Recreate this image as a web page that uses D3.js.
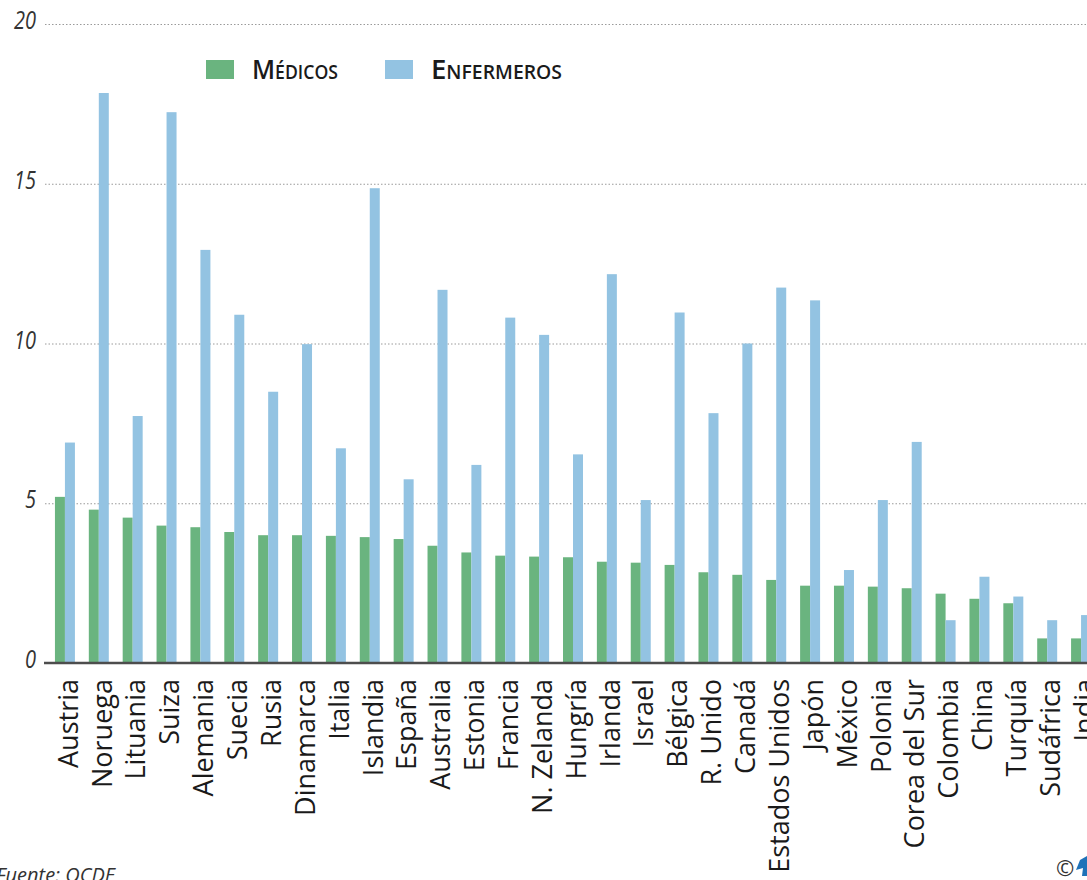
<!DOCTYPE html>
<html lang="es">
<head>
<meta charset="utf-8">
<script src="https://cdn.jsdelivr.net/npm/d3@7"></script>
<style>
  html, body { margin: 0; padding: 0; background: #fff; overflow: hidden; }
  svg { display: block; }
</style>
</head>
<body>
<svg id="chart" width="1087" height="880"></svg>
<script>
// Médicos y enfermeros por cada 1.000 habitantes
const countries = ["Austria", "Noruega", "Lituania", "Suiza", "Alemania", "Suecia", "Rusia",
  "Dinamarca", "Italia", "Islandia", "España", "Australia", "Estonia", "Francia",
  "N. Zelanda", "Hungría", "Irlanda", "Israel", "Bélgica", "R. Unido", "Canadá",
  "Estados Unidos", "Japón", "México", "Polonia", "Corea del Sur", "Colombia", "China",
  "Turquía", "Sudáfrica", "India"];
const medicos = [5.2, 4.8, 4.55, 4.3, 4.25, 4.1, 4.0, 4.0, 3.98, 3.94, 3.88, 3.67, 3.46, 3.36,
  3.33, 3.31, 3.17, 3.14, 3.07, 2.84, 2.76, 2.6, 2.42, 2.42, 2.39, 2.34, 2.17, 2.01, 1.87,
  0.77, 0.77];
const enfermeros = [6.9, 17.84, 7.73, 17.24, 12.93, 10.9, 8.49, 9.98, 6.72, 14.86, 5.75, 11.68,
  6.2, 10.81, 10.27, 6.53, 12.17, 5.1, 10.97, 7.82, 10.0, 11.75, 11.35, 2.91, 5.1, 6.92, 1.34,
  2.7, 2.08, 1.34, 1.5];
const yTicks = [0, 5, 10, 15, 20];
const seriesKeys = ["medicos", "enfermeros"];
const seriesLabels = ["Médicos", "Enfermeros"];
const seriesColors = ["#6ab47f", "#93c3e2"];

const rows = countries.map((c, i) => ({ country: c, medicos: medicos[i], enfermeros: enfermeros[i] }));

const svg = d3.select("#chart");

const y = d3.scaleLinear().domain([0, 20]).range([663, 24]);
const x = d3.scaleBand().domain(countries).range([48, 1098]).paddingInner(0.41).paddingOuter(0.205);
const xs = d3.scaleBand().domain(seriesKeys).range([0, x.bandwidth()]);
const color = d3.scaleOrdinal().domain(seriesKeys).range(seriesColors);

// dotted grid lines
svg.append("g").selectAll("line")
  .data(yTicks.filter(t => t > 0))
  .join("line")
  .attr("x1", 45).attr("x2", 1087)
  .attr("y1", d => y(d) + 0.5).attr("y2", d => y(d) + 0.5)
  .attr("stroke", "#9a9a9a").attr("stroke-width", 1)
  .attr("stroke-dasharray", "1.5,2");

// y tick labels
svg.append("g").selectAll("text")
  .data(yTicks)
  .join("text")
  .attr("transform", d => `translate(36,${y(d) + 5}) scale(0.8,1)`)
  .attr("text-anchor", "end")
  .attr("font-family", "Open Sans, sans-serif")
  .attr("font-style", "italic")
  .attr("font-size", 25)
  .attr("fill", "#333")
  .text(d => d);

// bars
const groups = svg.append("g").selectAll("g")
  .data(rows)
  .join("g")
  .attr("transform", d => `translate(${x(d.country)},0)`);

groups.selectAll("rect")
  .data(d => seriesKeys.map(k => ({ key: k, value: d[k] })))
  .join("rect")
  .attr("x", d => xs(d.key))
  .attr("width", xs.bandwidth())
  .attr("y", d => y(d.value))
  .attr("height", d => y(0) - y(d.value))
  .attr("fill", d => color(d.key));

// baseline
svg.append("line")
  .attr("x1", 44).attr("x2", 1087)
  .attr("y1", y(0)).attr("y2", y(0))
  .attr("stroke", "#4d4d4d").attr("stroke-width", 2.5);

// country labels
svg.append("g").selectAll("text")
  .data(countries)
  .join("text")
  .attr("transform", d => `translate(${x(d) + x.bandwidth() / 2 + 3},${y(0) + 16}) rotate(-90)`)
  .attr("text-anchor", "end")
  .attr("dy", "0.36em")
  .attr("font-family", "Open Sans, sans-serif")
  .attr("font-size", 27)
  .attr("fill", "#1a1a1a")
  .text(d => d);

// legend
const legendX = [206, 385];
const legendTextW = [86, 131];
const legend = svg.append("g").selectAll("g")
  .data(seriesKeys)
  .join("g")
  .attr("transform", (d, i) => `translate(${legendX[i]},60)`);
legend.append("rect")
  .attr("width", 28).attr("height", 19)
  .attr("fill", d => color(d));
legend.append("text")
  .attr("x", 46).attr("y", 19)
  .attr("font-family", "Open Sans, sans-serif")
  .attr("font-weight", 600)
  .attr("font-size", 27)
  .attr("font-variant", "small-caps")
  .attr("fill", "#1a1a1a")
  .attr("textLength", (d, i) => legendTextW[i])
  .attr("lengthAdjust", "spacingAndGlyphs")
  .text((d, i) => seriesLabels[i]);

// source and credit
svg.append("text")
  .attr("x", -4).attr("y", 882)
  .attr("font-family", "Open Sans, sans-serif")
  .attr("font-style", "italic")
  .attr("font-size", 20)
  .attr("fill", "#333")
  .text("Fuente: OCDE");

svg.append("text")
  .attr("x", 1056).attr("y", 876)
  .attr("font-family", "Open Sans, sans-serif")
  .attr("font-size", 22)
  .attr("fill", "#333")
  .text("©");
svg.append("path")
  .attr("d", "M1080,860 L1087,856 L1087,876 L1082,876 L1083,868 L1076,870 Z")
  .attr("fill", "#1f72b8");
</script>
</body>
</html>
